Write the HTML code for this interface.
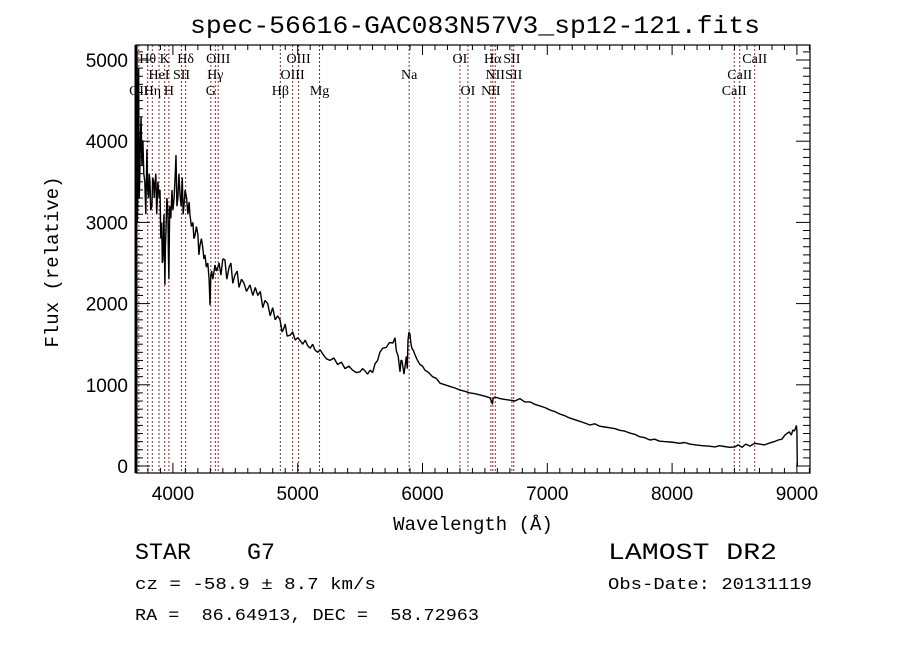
<!DOCTYPE html>
<html><head><meta charset="utf-8"><style>
body{margin:0;background:#fff;}
svg text{font-family:"Liberation Sans",sans-serif;white-space:pre;}
.ser{font-family:"Liberation Serif",serif;font-size:14px;}
</style></head><body>
<svg id="chart" width="900" height="649" viewBox="0 0 900 649" xmlns="http://www.w3.org/2000/svg" xml:space="preserve">
<rect width="900" height="649" fill="#fff"/>
<text x="190" y="33" textLength="570" lengthAdjust="spacingAndGlyphs" font-size="25" style="font-family:'Liberation Mono',monospace">spec-56616-GAC083N57V3_sp12-121.fits</text>
<g id="lines"></g>
<g id="labels"></g>
<path id="spec" fill="none" stroke="#000" stroke-width="1.4" stroke-linejoin="bevel"/>
<g id="axes"></g>
<text x="473" y="530" text-anchor="middle" font-size="19" style="font-family:'Liberation Mono',monospace">Wavelength (Å)</text>
<text transform="translate(58,262) rotate(-90)" text-anchor="middle" font-size="19" style="font-family:'Liberation Mono',monospace">Flux (relative)</text>
<text x="135" y="559" textLength="140" lengthAdjust="spacingAndGlyphs" font-size="23" style="font-family:'Liberation Mono',monospace">STAR    G7</text>
<text x="135" y="589" textLength="241" lengthAdjust="spacingAndGlyphs" font-size="17" style="font-family:'Liberation Mono',monospace">cz = -58.9 ± 8.7 km/s</text>
<text x="135" y="620" textLength="344" lengthAdjust="spacingAndGlyphs" font-size="17" style="font-family:'Liberation Mono',monospace">RA =  86.64913, DEC =  58.72963</text>
<text x="608" y="559" textLength="169" lengthAdjust="spacingAndGlyphs" font-size="23" style="font-family:'Liberation Mono',monospace">LAMOST DR2</text>
<text x="608" y="589" textLength="204" lengthAdjust="spacingAndGlyphs" font-size="17" style="font-family:'Liberation Mono',monospace">Obs-Date: 20131119</text>
</svg>
<script>
const waves=[3702,3705,3708,3712,3715,3718,3722,3725,3730,3735,3740,3745,3752,3760,3767,3775,3783,3792,3798,3805,3810,3816,3822,3832,3838,3845,3850,3856,3863,3870,3880,3890,3897,3903,3910,3915,3920,3928,3936,3940,3945,3952,3960,3964,3968,3972,3975,3983,3993,4000,4010,4018,4025,4032,4040,4048,4057,4066,4075,4082,4089,4098,4110,4120,4130,4137,4148,4160,4168,4177,4188,4200,4208,4217,4228,4240,4248,4257,4268,4280,4290,4297,4304,4310,4320,4337,4350,4370,4385,4400,4417,4432,4450,4465,4480,4497,4515,4530,4550,4570,4590,4618,4640,4660,4680,4700,4720,4738,4760,4780,4800,4820,4840,4858,4875,4890,4900,4915,4938,4960,4980,5000,5018,5040,5060,5080,5100,5120,5138,5160,5180,5200,5230,5259,5290,5320,5350,5379,5410,5440,5470,5499,5520,5540,5560,5579,5600,5620,5640,5659,5680,5710,5735,5763,5780,5790,5805,5820,5828,5835,5845,5852,5862,5870,5878,5884,5892,5900,5908,5915,5928,5940,5960,5980,6000,6020,6050,6080,6110,6140,6180,6220,6260,6301,6340,6380,6420,6461,6500,6540,6556,6560,6565,6580,6620,6660,6701,6740,6780,6820,6861,6900,6940,6980,7021,7060,7100,7140,7181,7220,7260,7300,7342,7380,7420,7460,7502,7540,7580,7620,7662,7700,7740,7780,7822,7860,7900,7940,7983,8020,8060,8100,8143,8190,8240,8290,8343,8380,8420,8460,8503,8530,8560,8590,8623,8660,8700,8740,8784,8820,8850,8880,8904,8920,8940,8955,8968,8980,8990,8996,9000,9003];
const flux=[1500,4800,2400,5100,3000,3200,4600,4900,3300,3600,4100,4300,3700,4010,3600,3500,3100,3900,3400,3300,3600,3520,3150,3200,3550,3500,3300,3460,3600,3100,3500,3300,3400,2800,3000,2500,2540,3100,2230,2700,2900,3300,3150,2600,2300,2900,3200,3050,3400,3150,3300,3550,3830,3200,3300,3600,3350,3200,3550,3100,3210,3400,3300,3100,3250,3090,2950,3000,2800,2840,2950,2850,2600,2720,2800,2680,2550,2600,2450,2500,2300,1980,2350,2400,2300,2475,2400,2500,2350,2550,2540,2300,2450,2500,2250,2350,2400,2200,2300,2250,2150,2230,2100,2200,2100,2150,1950,2040,2000,1850,1950,1800,1850,1800,1650,1700,1750,1600,1610,1650,1550,1580,1550,1500,1550,1480,1450,1500,1430,1400,1430,1380,1320,1300,1330,1250,1280,1200,1230,1180,1150,1160,1200,1170,1130,1180,1150,1260,1300,1400,1450,1460,1520,1515,1580,1420,1350,1160,1300,1300,1200,1130,1250,1350,1200,1550,1650,1620,1500,1450,1420,1370,1300,1250,1230,1180,1150,1100,1080,1020,1000,980,960,935,920,900,890,875,860,840,790,760,830,850,830,820,810,800,830,790,790,760,740,720,690,670,640,620,590,570,550,530,505,520,490,480,470,460,440,430,405,390,360,350,320,330,305,300,295,290,280,290,270,260,250,245,235,250,240,230,235,260,230,270,245,280,270,260,285,300,320,330,380,400,420,380,445,430,470,500,436,0];
const lineWaves=[3727,3798,3835,3889,3934,3968,4069,4102,4304,4340,4363,4861,4959,5007,5175,5893,6300,6364,6548,6563,6583,6716,6731,8498,8542,8662];
const lineNames=["OII","Hθ","Hη","HeI","K","H","SII","Hδ","G","Hγ","OIII","Hβ","OIII","OIII","Mg","Na","OI","OI","NII","Hα","NII","SII","SII","CaII","CaII","CaII"];
const lineRows=[2,0,2,1,0,2,1,0,2,1,0,2,1,0,2,1,0,2,2,0,1,0,1,2,1,0];
const xTicks=[4000,5000,6000,7000,8000,9000];
const yTicks=[0,1000,2000,3000,4000,5000];
const L=136,R=810,T=45,B=473;
const x=w=>172.9+(w-4000)*0.1248;
const y=f=>466-f*0.0812;
const NS='http://www.w3.org/2000/svg';
function mk(t,a,p){const e=document.createElementNS(NS,t);for(const k in a)e.setAttribute(k,a[k]);p.appendChild(e);return e;}
let d='';waves.forEach((w,i)=>{d+=(i?'L':'M')+x(w).toFixed(1)+','+Math.max(T,Math.min(B,y(flux[i]))).toFixed(1);});
document.getElementById('spec').setAttribute('d',d);
const gl=document.getElementById('lines'),glab=document.getElementById('labels');
lineWaves.forEach((w,i)=>{
 const l=mk('line',{x1:x(w),x2:x(w),y1:T,y2:B,stroke:'#8b2a2a','stroke-width':1,'stroke-dasharray':'2,2'},gl);
 
 
 const t=mk('text',{x:x(w),y:63+lineRows[i]*16,'text-anchor':'middle',class:'ser'},glab);
 t.textContent=lineNames[i];
 
 
});
const ga=document.getElementById('axes');
mk('rect',{x:L,y:T,width:R-L,height:B-T,fill:'none',stroke:'#000','stroke-width':1.2},ga);
for(let w=3800;w<=9100;w+=100){const X=x(w);const len=w%1000==0?10:5;
 mk('line',{x1:X,x2:X,y1:B,y2:B-len,stroke:'#000'},ga);mk('line',{x1:X,x2:X,y1:T,y2:T+len,stroke:'#000'},ga);}
for(let f=0;f<=5100;f+=100){const Y=y(f);const len=f%1000==0?14:7;
 mk('line',{x1:L,x2:L+len,y1:Y,y2:Y,stroke:'#000'},ga);mk('line',{x1:R,x2:R-len,y1:Y,y2:Y,stroke:'#000'},ga);}
mk('line',{x1:L,x2:L,y1:T,y2:B,stroke:'#000','stroke-width':3},ga);
xTicks.forEach(v=>{const t=mk('text',{x:x(v),y:500,'text-anchor':'middle','font-size':19},ga);t.textContent=v;
 });
yTicks.forEach(v=>{const t=mk('text',{x:128,y:y(v)+7,'text-anchor':'end','font-size':19},ga);t.textContent=v;
 });
</script>
</body></html>
